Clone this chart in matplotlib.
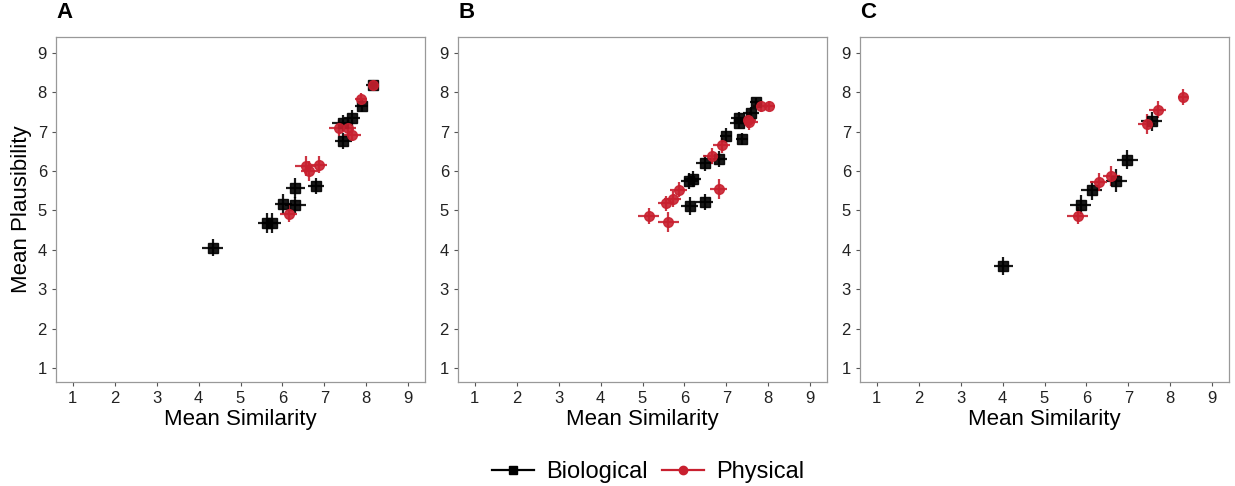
import matplotlib
matplotlib.use("Agg")
import matplotlib.pyplot as plt
from matplotlib.lines import Line2D

plt.rcParams["font.family"] = ["Liberation Sans", "DejaVu Sans"]

BIO_COLOR = "#000000"
PHY_COLOR = "#C8202F"

# Panel A
A_BIO_X = [4.34, 5.64, 5.74, 6.02, 6.31, 6.31, 6.80, 7.45, 7.44, 7.66, 7.89, 8.15]
A_BIO_Y = [4.06, 4.69, 4.69, 5.17, 5.14, 5.57, 5.62, 6.77, 7.22, 7.35, 7.64, 8.17]
A_BIO_XERR = [0.25, 0.22, 0.22, 0.2, 0.25, 0.22, 0.2, 0.2, 0.25, 0.2, 0.15, 0.15]
A_BIO_YERR = [0.22, 0.25, 0.25, 0.25, 0.2, 0.25, 0.2, 0.2, 0.2, 0.2, 0.15, 0.1]
A_PHY_X = [6.15, 6.56, 6.64, 6.87, 7.36, 7.56, 7.67, 7.87, 8.15]
A_PHY_Y = [4.92, 6.12, 6.00, 6.16, 7.09, 7.09, 6.92, 7.83, 8.19]
A_PHY_XERR = [0.2, 0.25, 0.2, 0.2, 0.25, 0.2, 0.2, 0.15, 0.12]
A_PHY_YERR = [0.22, 0.25, 0.25, 0.22, 0.2, 0.2, 0.15, 0.15, 0.1]

# Panel B
B_BIO_X = [7.71, 7.59, 7.31, 7.29, 7.37, 6.99, 6.82, 6.48, 6.20, 6.12, 6.13, 6.48]
B_BIO_Y = [7.74, 7.47, 7.35, 7.22, 6.82, 6.90, 6.31, 6.21, 5.80, 5.74, 5.11, 5.21]
B_BIO_XERR = [0.15, 0.2, 0.2, 0.2, 0.15, 0.15, 0.2, 0.2, 0.2, 0.2, 0.2, 0.2]
B_BIO_YERR = [0.12, 0.15, 0.15, 0.15, 0.15, 0.18, 0.2, 0.2, 0.2, 0.2, 0.22, 0.2]
B_PHY_X = [5.15, 5.62, 5.56, 5.72, 5.86, 6.82, 6.65, 6.89, 7.51, 7.55, 7.83, 8.02]
B_PHY_Y = [4.86, 4.70, 5.18, 5.30, 5.53, 5.55, 6.39, 6.65, 7.30, 7.24, 7.64, 7.66]
B_PHY_XERR = [0.25, 0.25, 0.2, 0.2, 0.2, 0.2, 0.2, 0.2, 0.2, 0.2, 0.2, 0.15]
B_PHY_YERR = [0.2, 0.25, 0.2, 0.2, 0.2, 0.25, 0.2, 0.2, 0.2, 0.2, 0.15, 0.12]

# Panel C
C_BIO_X = [4.02, 5.87, 6.13, 6.71, 6.97, 7.56]
C_BIO_Y = [3.59, 5.15, 5.51, 5.76, 6.29, 7.26]
C_BIO_XERR = [0.22, 0.25, 0.25, 0.25, 0.25, 0.25]
C_BIO_YERR = [0.22, 0.25, 0.25, 0.3, 0.25, 0.25]
C_PHY_X = [5.79, 6.29, 6.59, 7.44, 7.70, 8.31]
C_PHY_Y = [4.87, 5.72, 5.87, 7.20, 7.56, 7.88]
C_PHY_XERR = [0.25, 0.2, 0.2, 0.2, 0.2, 0.12]
C_PHY_YERR = [0.22, 0.22, 0.25, 0.25, 0.22, 0.2]

PANELS = [
    ("A", (A_BIO_X, A_BIO_Y, A_BIO_XERR, A_BIO_YERR), (A_PHY_X, A_PHY_Y, A_PHY_XERR, A_PHY_YERR)),
    ("B", (B_BIO_X, B_BIO_Y, B_BIO_XERR, B_BIO_YERR), (B_PHY_X, B_PHY_Y, B_PHY_XERR, B_PHY_YERR)),
    ("C", (C_BIO_X, C_BIO_Y, C_BIO_XERR, C_BIO_YERR), (C_PHY_X, C_PHY_Y, C_PHY_XERR, C_PHY_YERR)),
]
TICKS = [1, 2, 3, 4, 5, 6, 7, 8, 9]

fig = plt.figure(figsize=(12.35, 4.86), dpi=100)
fig.patch.set_facecolor("white")
lefts = [56 / 1235, 458 / 1235, 860 / 1235]
width = 369 / 1235
bottom = 1 - 382 / 486
height = 345 / 486

for left, (label, bio, phy) in zip(lefts, PANELS):
    ax = fig.add_axes([left, bottom, width, height])
    for (xs, ys, xe, ye), color, marker in ((bio, BIO_COLOR, "s"), (phy, PHY_COLOR, "o")):
        ax.errorbar(xs, ys, xerr=xe, yerr=ye, fmt=marker, color=color, ecolor=color,
                    markersize=7, elinewidth=1.6, capsize=0, alpha=0.9)
    ax.set_xlim(0.6, 9.4)
    ax.set_ylim(0.65, 9.4)
    ax.set_xticks(TICKS)
    ax.set_yticks(TICKS)
    ax.tick_params(labelsize=12, labelcolor="#222222", color="#555555", length=3, width=0.8)
    for spine in ax.spines.values():
        spine.set_color("#999999")
        spine.set_linewidth(0.9)
    ax.set_xlabel("Mean Similarity", fontsize=16, labelpad=2)
    if label == "A":
        ax.set_ylabel("Mean Plausibility", fontsize=16, labelpad=4)
    ax.text(0.0, 1.04, label, transform=ax.transAxes, fontsize=16, fontweight="bold",
            ha="left", va="bottom")

handles = [
    Line2D([], [], color=BIO_COLOR, marker="s", markersize=6, linewidth=1.6),
    Line2D([], [], color=PHY_COLOR, marker="o", markersize=6, linewidth=1.6),
]
fig.legend(handles, ["Biological", "Physical"], loc="center", bbox_to_anchor=(648 / 1235, 1 - 472 / 486),
           ncol=2, frameon=False, fontsize=17, handlelength=1.8, columnspacing=0.6, handletextpad=0.5)

fig.savefig("out.png", dpi=100, facecolor="white")
